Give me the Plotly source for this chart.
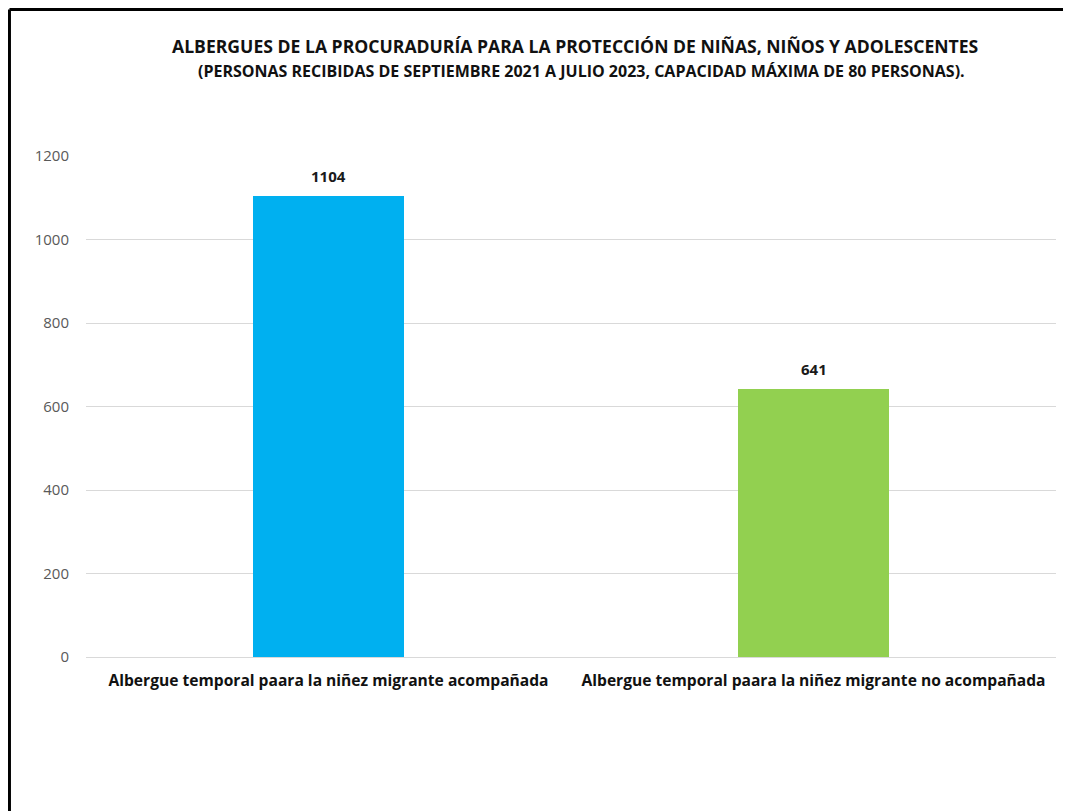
import plotly.graph_objects as go

categories = [
    "Albergue temporal paara la niñez migrante acompañada",
    "Albergue temporal paara la niñez migrante no acompañada",
]
personas = [1104, 641]
bar_colors = ["#00B0F0", "#92D050"]
y_ticks = [0, 200, 400, 600, 800, 1000, 1200]

title_1 = "ALBERGUES DE LA PROCURADURÍA PARA LA PROTECCIÓN DE NIÑAS, NIÑOS Y ADOLESCENTES"
title_2 = "(PERSONAS RECIBIDAS DE SEPTIEMBRE 2021 A JULIO 2023, CAPACIDAD MÁXIMA DE 80 PERSONAS)."

font_main = "Open Sans, sans-serif"

fig = go.Figure()
fig.add_trace(
    go.Bar(
        x=categories,
        y=personas,
        marker=dict(color=bar_colors, line=dict(width=0)),
        width=0.313,
        cliponaxis=False,
    )
)

# value labels above the bars
for cat, val in zip(categories, personas):
    fig.add_annotation(
        x=cat, y=val, text="<b>%d</b>" % val, showarrow=False,
        yanchor="bottom", yshift=8,
        font=dict(family="Open Sans, sans-serif", size=15, color="#1a1a1a"),
    )

fig.update_layout(
    width=1071,
    height=811,
    autosize=False,
    margin=dict(l=78, r=23, t=148, b=162),
    paper_bgcolor="white",
    plot_bgcolor="white",
    showlegend=False,
    bargap=0,
)

fig.update_xaxes(
    tickfont=dict(family=font_main, size=15.6, color="#111111"),
    tickvals=categories,
    ticktext=["<b>%s</b>" % c for c in categories],
    showline=False,
    ticks="",
    ticklabelstandoff=12,
)
fig.update_yaxes(
    range=[0, 1200],
    tickvals=y_ticks,
    tickfont=dict(family="Open Sans, sans-serif", size=15, color="#595959"),
    showgrid=True,
    gridcolor="#D9D9D9",
    gridwidth=1,
    zeroline=True,
    zerolinecolor="#D9D9D9",
    zerolinewidth=1,
    ticks="",
    ticklabelstandoff=16,
)

# two-line title
fig.add_annotation(
    text="<b>%s</b>" % title_1, xref="paper", yref="paper",
    x=0.504, y=1.2196, showarrow=False, xanchor="center", yanchor="middle",
    font=dict(family=font_main, size=17.6, color="#111111"),
)
fig.add_annotation(
    text="<b>%s</b>" % title_2, xref="paper", yref="paper",
    x=0.511, y=1.1697, showarrow=False, xanchor="center", yanchor="middle",
    font=dict(family=font_main, size=16, color="#111111"),
)

# black frame (top and left edges visible)
fig.add_shape(type="line", xref="paper", yref="paper",
              x0=-0.0789, x1=1.1, y0=1.2924, y1=1.2924,
              line=dict(color="black", width=3))
fig.add_shape(type="line", xref="paper", yref="paper",
              x0=-0.0789, x1=-0.0789, y0=-0.4, y1=1.2924,
              line=dict(color="black", width=3))

fig.write_html("out.html")
